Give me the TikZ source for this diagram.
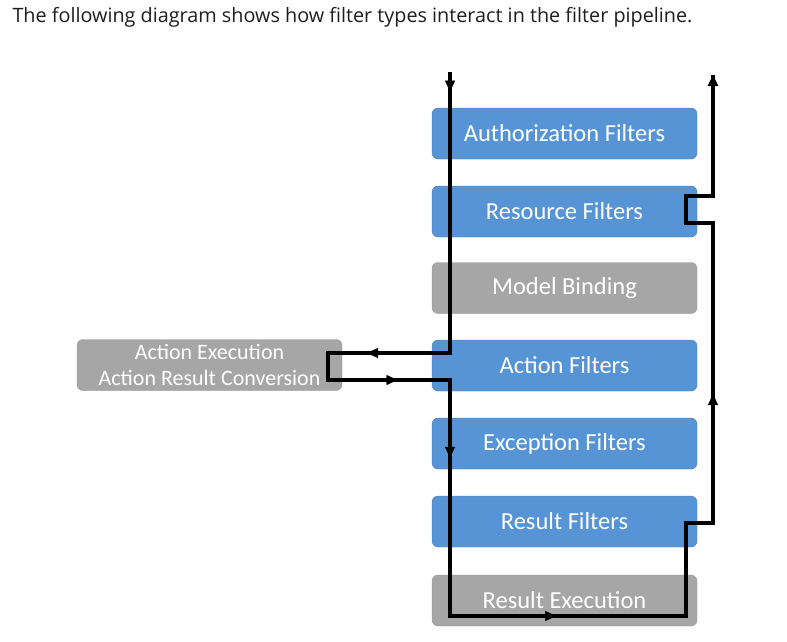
\documentclass[tikz,border=0pt]{standalone}
\usepackage{fontspec}
\setmainfont{Carlito}
\newfontfamily\titlefont{Open Sans}
\usetikzlibrary{arrows.meta,decorations.markings}

\definecolor{filterblue}{RGB}{86,148,214}
\definecolor{stagegray}{RGB}{166,166,166}
\definecolor{titlegray}{RGB}{30,30,30}

\tikzset{
  filterbox/.style={draw=filterblue!85!black, fill=filterblue, rounded corners=6pt,
    minimum width=265pt, minimum height=51pt, inner sep=0pt, text=white,
    font=\fontsize{24.5}{28}\selectfont},
  stagebox/.style={filterbox, draw=stagegray!90!black, fill=stagegray},
  flow/.style={line width=3.2pt, line join=miter},
  midarr/.style={postaction={decorate}, decoration={markings,
    mark=at position #1 with {\arrow{Triangle[length=11pt,width=10pt]}}}}
}

\begin{document}
\begin{tikzpicture}[x=1pt,y=-1pt]
				\useasboundingbox (0,0) rectangle (787,642);
				
				\node[anchor=base west, text=titlegray, font=\titlefont\fontsize{19.8}{24}\selectfont] (title) at (9,23)
					{The following diagram shows how filter types interact in the filter pipeline.};
				
				% pipeline
				\node[filterbox] (auth)  at (564.5,133.5) {Authorization Filters};
				\node[filterbox] (res)   at (564.5,211.5) {Resource Filters};
				\node[stagebox]  (bind)  at (564.5,288  ) {Model Binding};
				\node[filterbox] (act)   at (564.5,365.5) {Action Filters};
				\node[filterbox] (exc)   at (564.5,443.5) {Exception Filters};
				\node[filterbox] (resf)  at (564.5,521.5) {Result Filters};
				\node[stagebox]  (rexec) at (564.5,600.5) {Result Execution};
				
				\node[stagebox, align=center, font=\fontsize{22}{26}\selectfont] (aexec) at (209.5,365)
					{Action Execution\\Action Result Conversion};
				
				% request path
				\coordinate (in)  at (450,72);
				\coordinate (a1)  at (450,353);
				\coordinate (a2)  at (328,353);
				\coordinate (a3)  at (328,380);
				\coordinate (a4)  at (450,380);
				\coordinate (a5)  at (450,616);
				\coordinate (a6)  at (686,616);
				\coordinate (a7)  at (686,523);
				\coordinate (a8)  at (713,523);
				\coordinate (a9)  at (713,223);
				\coordinate (a10) at (686,223);
				\coordinate (a11) at (686,196);
				\coordinate (a12) at (713,196);
				\coordinate (out) at (713,75);
				
				\draw[flow] (in) -- (a1) -- (a2) -- (a3) -- (a4) -- (a5) -- (a6) -- (a7) -- (a8) -- (a9) -- (a10) -- (a11) -- (a12) -- (out);
				\draw[flow, -{Triangle[length=11pt,width=10pt]}] (a12) -- (out);
				
				\path[midarr=0.07] (in) -- (a1);
				\path[midarr=0.68] (a1) -- (a2);
				\path[midarr=0.57] (a3) -- (a4);
				\path[midarr=0.33] (a4) -- (a5);
				\path[midarr=0.45] (a5) -- (a6);
				\path[midarr=0.43] (a8) -- (a9);
			\end{tikzpicture}
\end{document}
